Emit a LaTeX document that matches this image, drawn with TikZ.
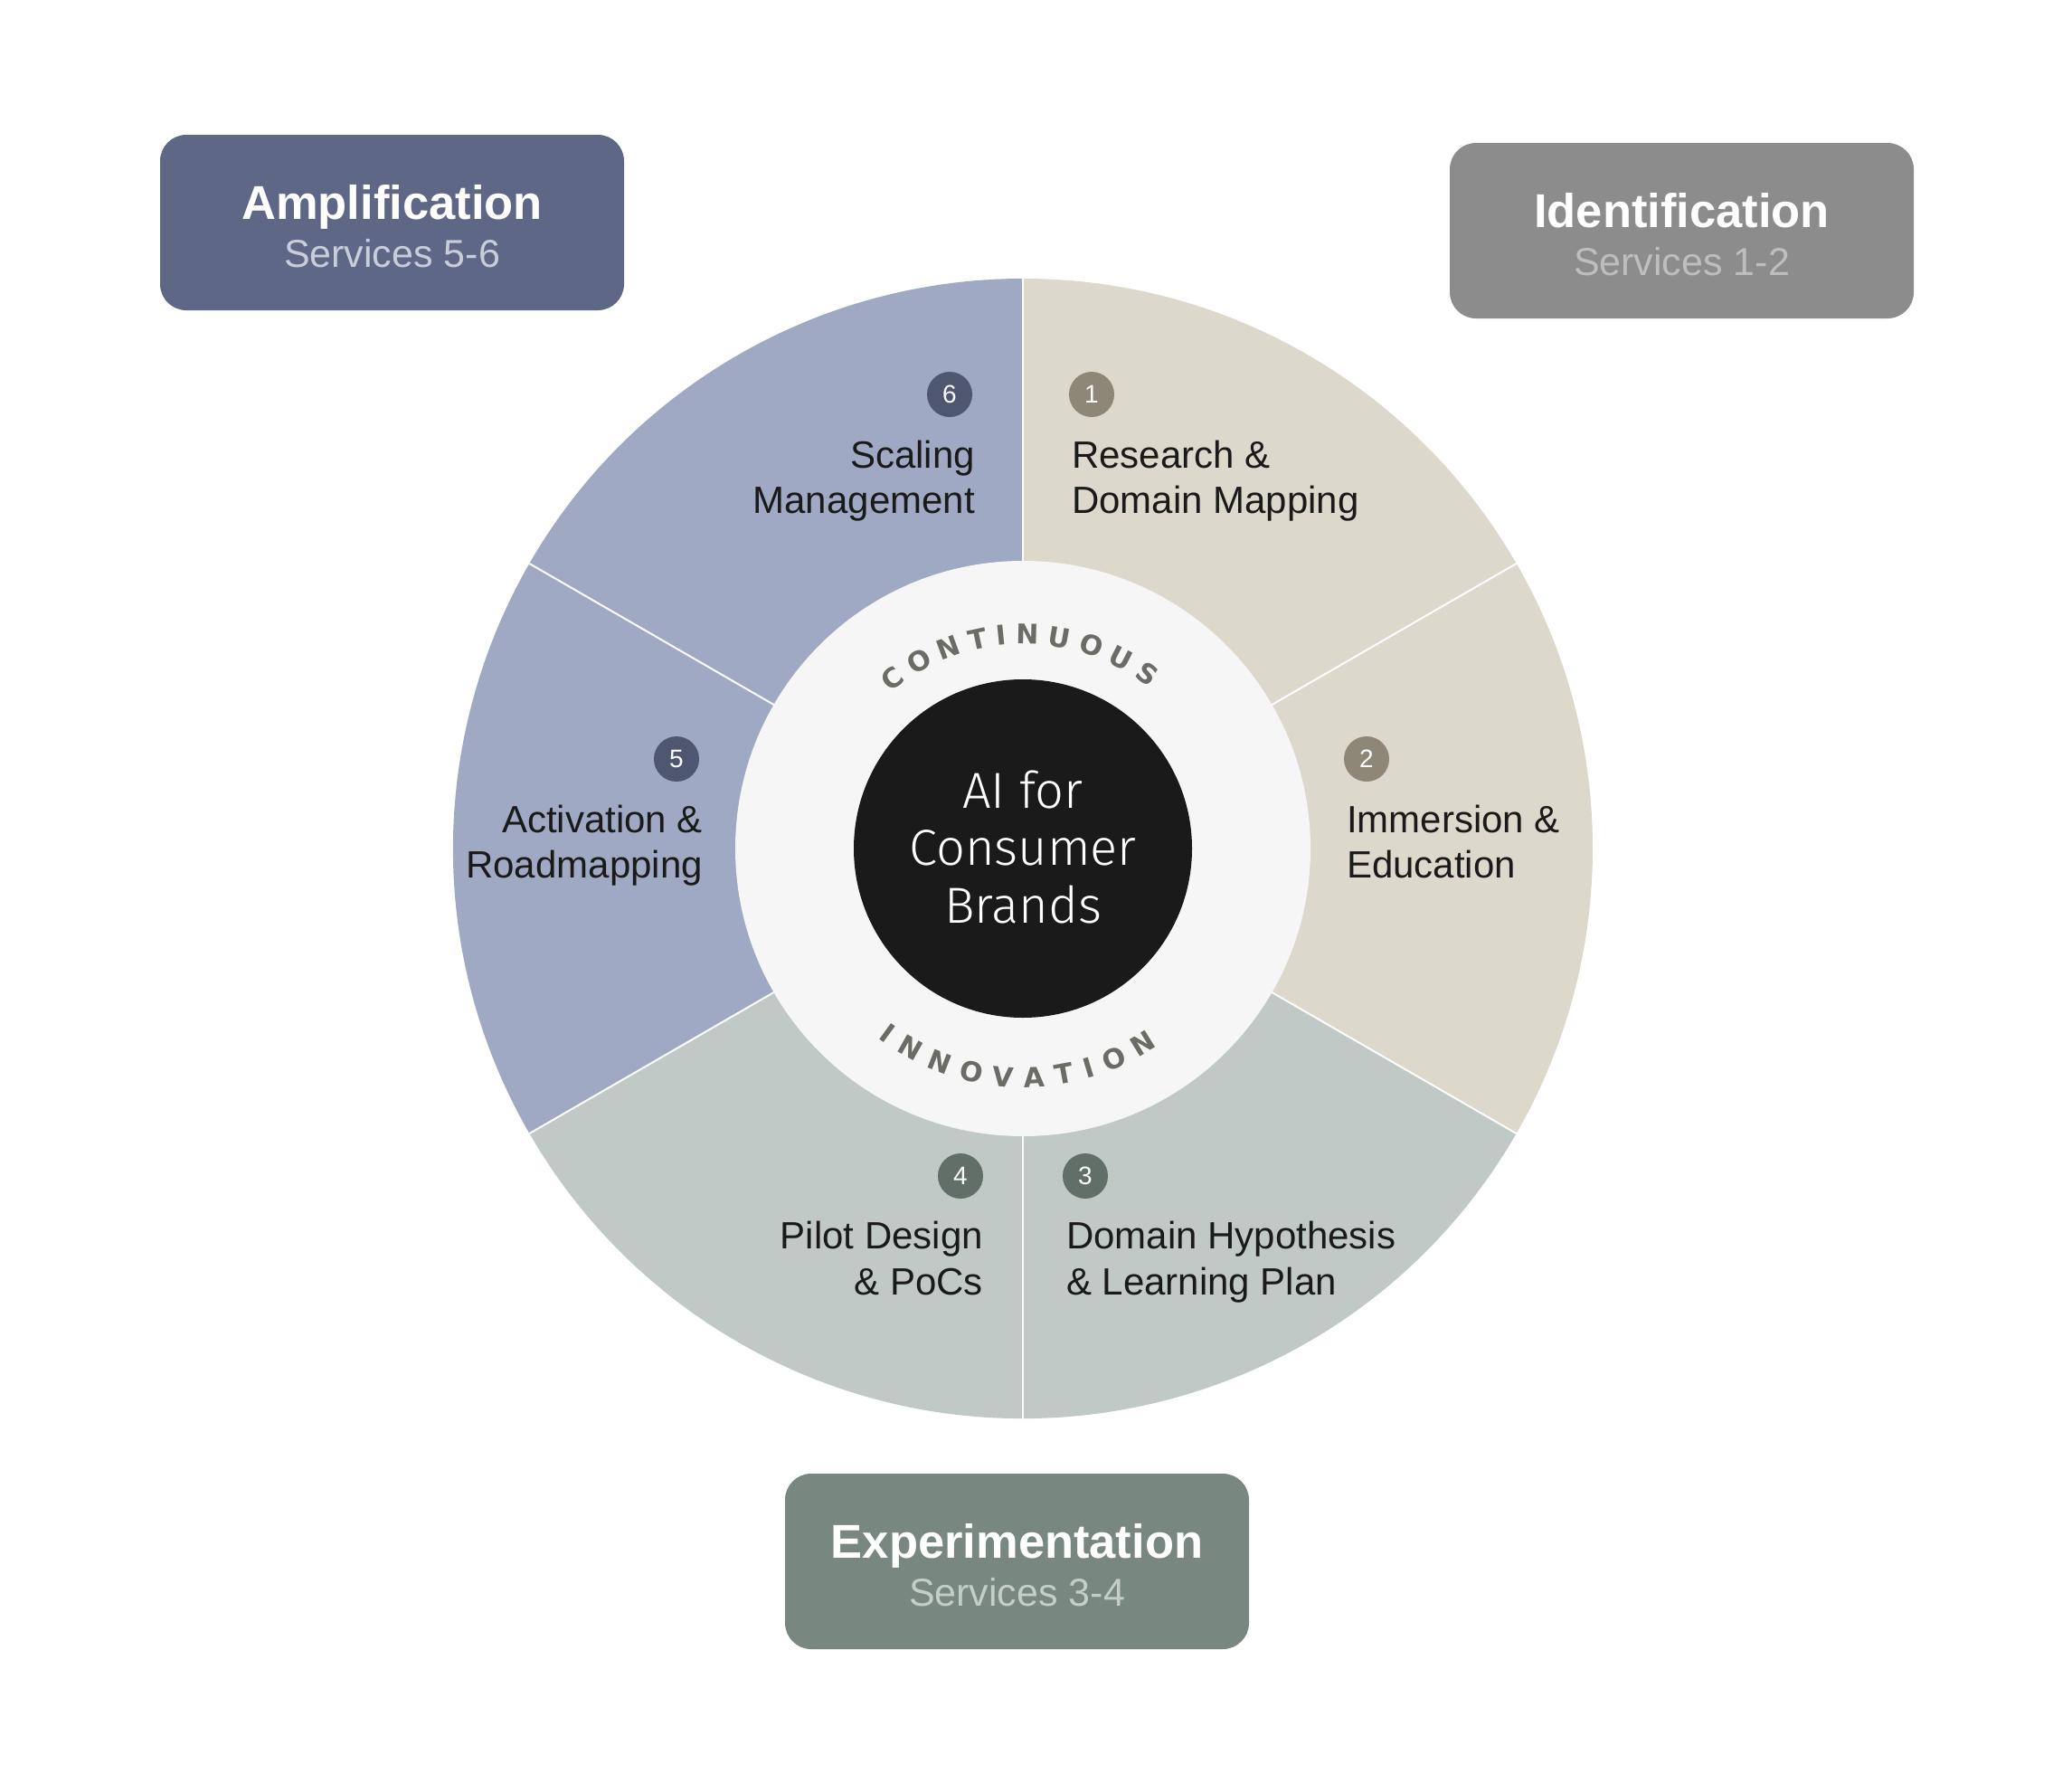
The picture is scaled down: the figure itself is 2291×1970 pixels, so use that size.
\documentclass[tikz,border=0pt]{standalone}
\usepackage{fontspec}
\setmainfont{Liberation Sans}
\newfontfamily\centerfont{Fira Sans Light}
\newfontfamily\arcfont{DejaVu Sans}
\definecolor{segBeige}{HTML}{DDD8CC}
\definecolor{segSage}{HTML}{C0C9C5}
\definecolor{segBlue}{HTML}{9FA9C4}
\definecolor{bTaupe}{HTML}{8E8676}
\definecolor{bSage}{HTML}{626F68}
\definecolor{bBlue}{HTML}{4E5670}
\definecolor{boxAmp}{HTML}{5E6886}
\definecolor{boxId}{HTML}{8C8C8C}
\definecolor{boxExp}{HTML}{78877F}
\definecolor{subAmp}{HTML}{C9CDD9}
\definecolor{subId}{HTML}{BEBEBE}
\definecolor{subExp}{HTML}{C4CDC8}
\definecolor{innerGray}{HTML}{F6F6F6}
\definecolor{coreBlack}{HTML}{1A1A1A}
\definecolor{arcGray}{HTML}{6B6C66}
\definecolor{lblText}{HTML}{1A1A1A}
\tikzset{
  phasebox/.style={rounded corners=29pt, minimum width=513pt, minimum height=194pt, inner sep=0pt},
  phasetitle/.style={anchor=base, text=white, inner sep=0pt, font=\bfseries\fontsize{52.5}{60}\selectfont},
  phasesub/.style={anchor=base, inner sep=0pt, font=\fontsize{43}{50}\selectfont},
  badge/.style={circle, minimum size=50pt, inner sep=0pt, text=white, font=\fontsize{28}{30}\selectfont},
  lblL/.style={anchor=base west, inner sep=0pt, text=lblText, font=\fontsize{42}{50}\selectfont},
  lblR/.style={anchor=base east, inner sep=0pt, text=lblText, font=\fontsize{42}{50}\selectfont},
  coretext/.style={anchor=base, inner sep=0pt, text=white, font=\centerfont\fontsize{56}{64}\selectfont},
  arcletter/.style={anchor=base, inner sep=0pt, text=arcGray, font=\arcfont\bfseries\fontsize{30}{34}\selectfont},
  sep/.style={white, line width=2pt}
}
\begin{document}
\begin{tikzpicture}[x=1pt,y=-1pt]
\useasboundingbox[fill=white] (0,0) rectangle (2291,1970);
\coordinate (O) at (1131,938);
% ---------- wheel ----------
\begin{scope}[shift={(O)}, x=1pt, y=1pt]
  \fill[segBeige] (0,0) -- (90:630) arc[start angle=90, end angle=-30, radius=630] -- cycle;
  \fill[segSage] (0,0) -- (-30:630) arc[start angle=-30, end angle=-150, radius=630] -- cycle;
  \fill[segBlue] (0,0) -- (210:630) arc[start angle=210, end angle=90, radius=630] -- cycle;
  \foreach \a in {30,90,150,210,270,330} \draw[sep] (0,0) -- (\a:630);
  \node[circle, fill=innerGray, minimum size=636pt, inner sep=0pt] (inner) at (0,0) {};
  \node[circle, fill=coreBlack, minimum size=374pt, inner sep=0pt] (core) at (0,0) {};
  % CONTINUOUS along the top
  \gdef\arcpos{0}
  \foreach \ch/\w [count=\i] in {C/0.734,O/0.850,N/0.837,T/0.682,I/0.372,N/0.837,U/0.812,O/0.850,U/0.812,S/0.720} {
    \pgfmathsetmacro\myS{\arcpos + \w*15}
    \pgfmathsetmacro\myAng{91 + (154.92 - \myS)/226*57.2958}
    \node[arcletter, rotate=\myAng-90] (top\i) at (\myAng:226) {\ch};
    \pgfmathsetmacro\myN{\arcpos + \w*30 + 9.4}
    \xdef\arcpos{\myN}
  }
  % INNOVATION along the bottom
  \gdef\arcpos{0}
  \foreach \ch/\w [count=\i] in {I/0.372,N/0.837,N/0.837,O/0.850,V/0.774,A/0.774,T/0.682,I/0.372,O/0.850,N/0.837} {
    \pgfmathsetmacro\myS{\arcpos + \w*15}
    \pgfmathsetmacro\myAng{268.5 - (165.375 - \myS)/264*57.2958}
    \node[arcletter, rotate=\myAng+90] (bot\i) at (\myAng:264) {\ch};
    \pgfmathsetmacro\myN{\arcpos + \w*30 + 12.8}
    \xdef\arcpos{\myN}
  }
\end{scope}
% center title
\node[coretext] (c1) at (1131,893) {AI for};
\node[coretext] (c2) at (1131,956.5) {Consumer};
\node[coretext] (c3) at (1131,1020) {Brands};
% ---------- badges ----------
\node[badge, fill=bTaupe] (b1) at (1207,436) {1};
\node[badge, fill=bTaupe] (b2) at (1511,839) {2};
\node[badge, fill=bSage] (b3) at (1200,1300) {3};
\node[badge, fill=bSage] (b4) at (1062,1300) {4};
\node[badge, fill=bBlue] (b5) at (748,839) {5};
\node[badge, fill=bBlue] (b6) at (1050,436) {6};
% ---------- labels ----------
\node[lblL] (l1a) at (1185,517) {Research \&};
\node[lblL] (l1b) at (1185,567) {Domain Mapping};
\node[lblL] (l2a) at (1489,920) {Immersion \&};
\node[lblL] (l2b) at (1489,970) {Education};
\node[lblL] (l3a) at (1179,1380) {Domain Hypothesis};
\node[lblL] (l3b) at (1179,1431) {\& Learning Plan};
\node[lblR] (l4a) at (1087,1380) {Pilot Design};
\node[lblR] (l4b) at (1087,1431) {\& PoCs};
\node[lblR] (l5a) at (777,920) {Activation \&};
\node[lblR] (l5b) at (777,970) {Roadmapping};
\node[lblR] (l6a) at (1078,517) {Scaling};
\node[lblR] (l6b) at (1078,567) {Management};
% ---------- phase boxes ----------
\node[phasebox, fill=boxAmp] (amp) at (433.5,246) {};
\node[phasetitle] (ampT) at (433.5,242) {Amplification};
\node[phasesub, text=subAmp] (ampS) at (433.5,295) {Services 5-6};
\node[phasebox, fill=boxId] (idb) at (1859.5,255) {};
\node[phasetitle] (idT) at (1859.5,251) {Identification};
\node[phasesub, text=subId] (idS) at (1859.5,304) {Services 1-2};
\node[phasebox, fill=boxExp] (exp) at (1124.5,1726) {};
\node[phasetitle] (expT) at (1124.5,1722) {Experimentation};
\node[phasesub, text=subExp] (expS) at (1124.5,1775) {Services 3-4};
\end{tikzpicture}
\end{document}
